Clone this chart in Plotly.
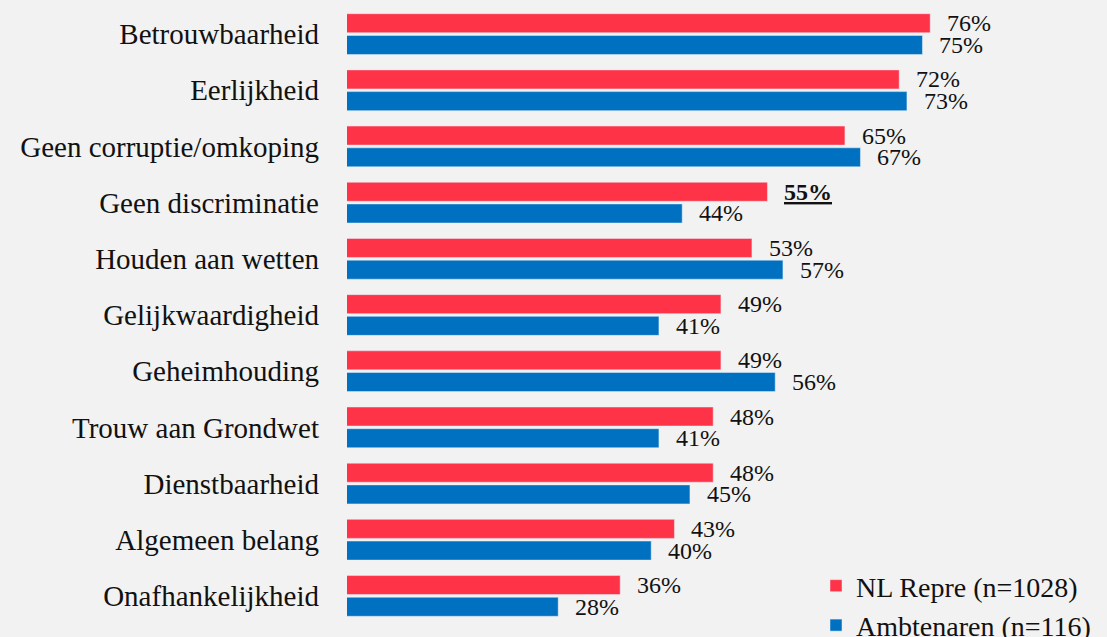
import plotly.graph_objects as go

# ---- data ----
categories = ["Betrouwbaarheid", "Eerlijkheid", "Geen corruptie/omkoping",
              "Geen discriminatie", "Houden aan wetten", "Gelijkwaardigheid",
              "Geheimhouding", "Trouw aan Grondwet", "Dienstbaarheid",
              "Algemeen belang", "Onafhankelijkheid"]
nl_repre = [76, 72, 65, 55, 53, 49, 49, 48, 48, 43, 36]
ambtenaren = [75, 73, 67, 44, 57, 41, 56, 41, 45, 40, 28]
series_names = ["NL Repre (n=1028)", "Ambtenaren (n=116)"]
highlighted_nl = ["Geen discriminatie"]

# ---- style ----
RED = "#FF3347"
BLUE = "#0070C0"
BG = "#F2F2F2"
FONT = "Liberation Serif"
W, H = 1107, 637
ML, MT, MB = 347, 6, 13
PX_PER_PCT = 7.75
X_MIN = 0.75
X_MAX = X_MIN + (W - ML) / PX_PER_PCT
pitch = (H - MT - MB) / len(categories)
BARGAP = 0.227
slot = pitch * (1 - BARGAP) / 2
LABEL_SIZE = 24

fig = go.Figure()
fig.add_trace(go.Bar(y=categories, x=nl_repre, orientation="h", name=series_names[0],
                     marker=dict(color=RED)))
fig.add_trace(go.Bar(y=categories, x=ambtenaren, orientation="h", name=series_names[1],
                     marker=dict(color=BLUE)))

annotations = []
for vals, shift, is_nl in ((nl_repre, slot / 2, True), (ambtenaren, -slot / 2, False)):
    for cat, v in zip(categories, vals):
        hl = is_nl and cat in highlighted_nl
        font = dict(family=FONT, size=LABEL_SIZE, color="#111111")
        if hl:
            font.update(weight="bold", lineposition="under")
        annotations.append(dict(
            x=v, y=cat, xref="x", yref="y", text=f"{v}%", showarrow=False,
            xanchor="left", yanchor="middle", xshift=15, yshift=shift,
            font=font))

fig.update_layout(
    width=W, height=H,
    margin=dict(l=ML, r=0, t=MT, b=MB, autoexpand=False),
    paper_bgcolor=BG, plot_bgcolor=BG,
    barmode="group", bargap=BARGAP, bargroupgap=0.124,
    font=dict(family=FONT, color="#111111"),
    xaxis=dict(range=[X_MIN, X_MAX], showgrid=False, zeroline=False,
               showticklabels=False, showline=False),
    yaxis=dict(autorange="reversed", showgrid=False, zeroline=False, showline=False,
               ticks="", ticklabelstandoff=27,
               tickfont=dict(family=FONT, size=29, color="#111111")),
    legend=dict(xref="paper", yref="paper", x=(816 - ML) / (W - ML),
                y=1 - (561 - MT) / (H - MT - MB),
                xanchor="left", yanchor="top", tracegroupgap=0,
                traceorder="normal",
                font=dict(family=FONT, size=28, color="#111111"),
                bgcolor="rgba(0,0,0,0)"),
    annotations=annotations,
)

fig.write_html("out.html", config={"displayModeBar": False},
               post_script="document.body.style.margin='0px';")
